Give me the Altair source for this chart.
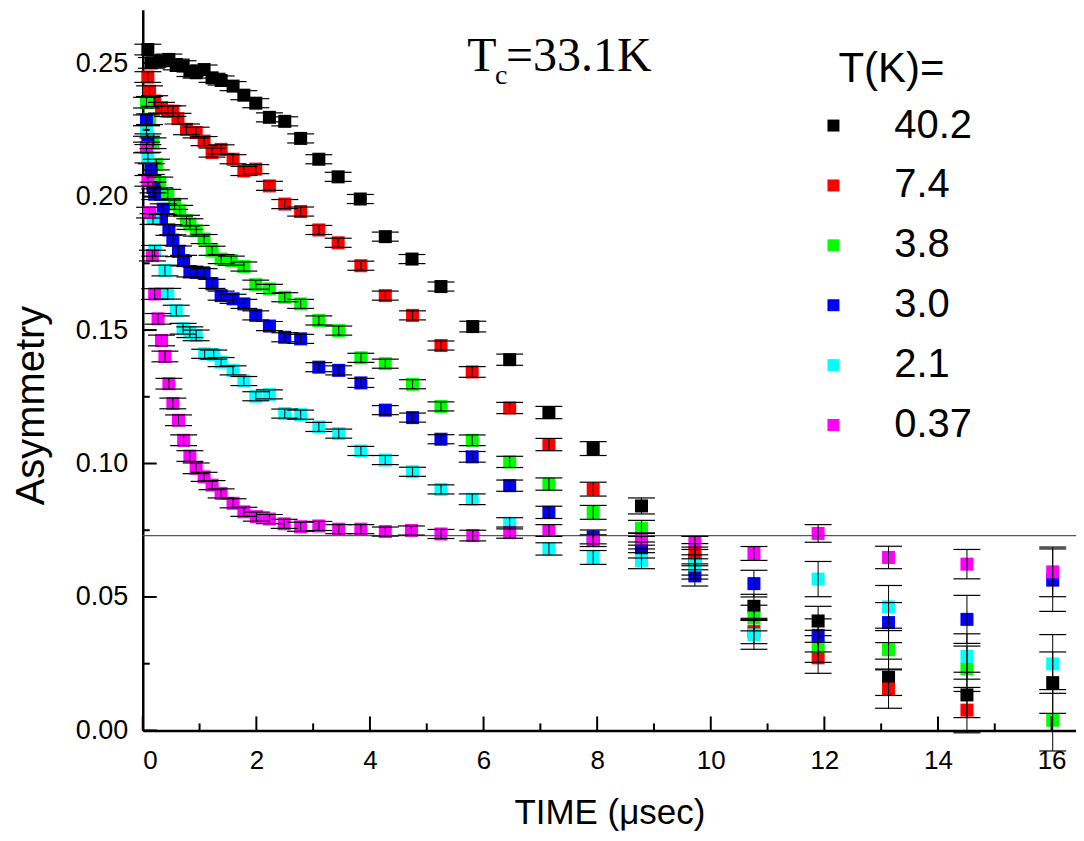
import altair as alt
import pandas as pd

series_labels = ["40.2", "7.4", "3.8", "3.0", "2.1", "0.37"]
series_colors = ["#000000", "#ff0000", "#00ff00", "#0000ff", "#00ffff", "#ff00ff"]

# T = 40.2 K
t_402 = [0.09, 0.15, 0.30, 0.46, 0.59, 0.71, 0.83, 0.94,
         1.08, 1.22, 1.38, 1.59, 1.78, 1.99, 2.23, 2.50, 2.78, 3.10, 3.44, 3.83, 4.27, 4.74, 5.25,
         5.81, 6.46, 7.15, 7.93, 8.78, 9.72, 10.76, 11.89, 13.13, 14.51, 16.02]
a_402 = [0.2551, 0.2501, 0.2507, 0.2514, 0.2495, 0.2489, 0.2470, 0.2464,
         0.2476, 0.2445, 0.2435, 0.2414, 0.2380, 0.2350, 0.2297, 0.2282, 0.2218, 0.2140, 0.2074, 0.1991, 0.1850, 0.1766, 0.1663,
         0.1513, 0.1389, 0.1191, 0.1056, 0.0841, 0.0640, 0.0465, 0.0410, 0.0199, 0.0133, 0.0179]
e_402 = [0.002, 0.002, 0.002, 0.002, 0.002, 0.002, 0.002, 0.002,
         0.0017, 0.0017, 0.0017, 0.0017, 0.0017, 0.0017, 0.0017, 0.0017, 0.0017, 0.0017, 0.0017, 0.0017, 0.0017, 0.0017, 0.0017,
         0.002, 0.0021, 0.0023, 0.0026, 0.003, 0.0038, 0.0045, 0.0055, 0.0068, 0.0085, 0.0115]

# T = 7.4 K
t_74 = [0.09, 0.12, 0.21, 0.33, 0.44, 0.53, 0.62, 0.77, 0.94,
        1.08, 1.22, 1.38, 1.59, 1.78, 1.99, 2.23, 2.50, 2.78, 3.10, 3.44, 3.84, 4.27, 4.75, 5.25,
        5.80, 6.46, 7.15, 7.93, 8.78, 9.72, 10.76, 11.89, 13.13, 14.51]
a_74 = [0.2448, 0.2395, 0.2358, 0.2333, 0.2320, 0.2320, 0.2292, 0.2252, 0.2240,
        0.2208, 0.2165, 0.2177, 0.2140, 0.2096, 0.2103, 0.2040, 0.1972, 0.1944, 0.1875, 0.1827, 0.1741, 0.1629, 0.1555, 0.1442,
        0.1343, 0.1208, 0.1071, 0.0904, 0.0710, 0.0662, 0.0370, 0.0272, 0.0155, 0.0076]
e_74 = [0.002, 0.002, 0.002, 0.002, 0.002, 0.002, 0.002, 0.002, 0.002,
        0.0017, 0.0017, 0.0017, 0.0017, 0.0017, 0.0017, 0.0017, 0.0017, 0.0017, 0.0017, 0.0017, 0.0017, 0.0017, 0.0017, 0.0017,
        0.002, 0.0021, 0.0023, 0.0026, 0.003, 0.0038, 0.0045, 0.0058, 0.0072, 0.0085]

# T = 3.8 K
t_38 = [0.065, 0.12, 0.18, 0.24, 0.30, 0.44, 0.56, 0.65, 0.77, 0.83, 0.94,
        1.08, 1.22, 1.38, 1.56, 1.78, 1.99, 2.23, 2.50, 2.78, 3.10, 3.45, 3.84, 4.27, 4.75, 5.25,
        5.80, 6.46, 7.15, 7.93, 8.78, 9.72, 10.76, 11.89, 13.13, 14.51, 16.02]
a_38 = [0.2352, 0.2290, 0.2200, 0.2120, 0.2053, 0.2007, 0.1972, 0.1947, 0.1910, 0.1897, 0.1872,
        0.1841, 0.1797, 0.1766, 0.1760, 0.1738, 0.1670, 0.1654, 0.1623, 0.1598, 0.1536, 0.1498, 0.1396, 0.1374, 0.1297, 0.1214,
        0.1087, 0.1006, 0.0923, 0.0817, 0.0757, 0.0605, 0.0421, 0.0315, 0.0302, 0.0231, 0.0038]
e_38 = [0.002, 0.002, 0.002, 0.002, 0.002, 0.002, 0.002, 0.002, 0.002, 0.002, 0.002,
        0.0017, 0.0017, 0.0017, 0.0017, 0.0017, 0.0017, 0.0017, 0.0017, 0.0017, 0.0017, 0.0017, 0.0017, 0.0017, 0.0017, 0.0017,
        0.002, 0.0021, 0.0023, 0.0026, 0.003, 0.0038, 0.0048, 0.006, 0.0072, 0.0085, 0.0115]

# T = 3.0 K
t_30 = [0.065, 0.09, 0.15, 0.18, 0.21, 0.33, 0.36, 0.46, 0.53, 0.63, 0.72, 0.83, 0.94,
        1.08, 1.22, 1.38, 1.59, 1.78, 1.99, 2.23, 2.50, 2.78, 3.10, 3.45, 3.84, 4.27, 4.75, 5.25,
        5.80, 6.46, 7.15, 7.93, 8.78, 9.72, 10.76, 11.89, 13.13, 14.51, 16.02]
a_30 = [0.2286, 0.2215, 0.2103, 0.2034, 0.2009, 0.1916, 0.1953, 0.1875, 0.1837, 0.1795, 0.1760, 0.1719, 0.1716,
        0.1713, 0.1673, 0.1629, 0.1617, 0.1598, 0.1555, 0.1515, 0.1473, 0.1467, 0.1361, 0.1349, 0.1302, 0.1200, 0.1172, 0.1091,
        0.1025, 0.0917, 0.0817, 0.0725, 0.0676, 0.0579, 0.0550, 0.0356, 0.0404, 0.0416, 0.0563]
e_30 = [0.002, 0.002, 0.002, 0.002, 0.002, 0.002, 0.002, 0.002, 0.002, 0.002, 0.002, 0.002, 0.002,
        0.0017, 0.0017, 0.0017, 0.0017, 0.0017, 0.0017, 0.0017, 0.0017, 0.0017, 0.0017, 0.0017, 0.0017, 0.0017, 0.0017, 0.0017,
        0.002, 0.0021, 0.0023, 0.0026, 0.003, 0.0038, 0.005, 0.0062, 0.0075, 0.009, 0.0117]

# T = 2.1 K
t_21 = [0.065, 0.09, 0.18, 0.21, 0.39, 0.44, 0.59, 0.71, 0.83, 0.94,
        1.09, 1.25, 1.38, 1.59, 1.78, 1.99, 2.23, 2.50, 2.78, 3.10, 3.45, 3.84, 4.27, 4.75, 5.25,
        5.80, 6.46, 7.15, 7.93, 8.78, 9.72, 10.76, 11.89, 13.13, 14.51, 16.02]
a_21 = [0.2246, 0.2146, 0.1916, 0.1797, 0.1723, 0.1636, 0.1573, 0.1505, 0.1492, 0.1480,
        0.1411, 0.1408, 0.1380, 0.1349, 0.1309, 0.1252, 0.1259, 0.1187, 0.1183, 0.1137, 0.1112, 0.1047, 0.1013, 0.0969, 0.0903,
        0.0866, 0.0776, 0.0680, 0.0648, 0.0636, 0.0620, 0.0358, 0.0567, 0.0463, 0.0277, 0.0249]
e_21 = [0.002, 0.002, 0.002, 0.002, 0.002, 0.002, 0.002, 0.002, 0.002, 0.002,
        0.0017, 0.0017, 0.0017, 0.0017, 0.0017, 0.0017, 0.0017, 0.0017, 0.0017, 0.0017, 0.0017, 0.0017, 0.0017, 0.0017, 0.0017,
        0.002, 0.0021, 0.0023, 0.0026, 0.003, 0.0038, 0.0054, 0.0066, 0.008, 0.0085, 0.011]

# T = 0.37 K
t_037 = [0.065, 0.09, 0.12, 0.17, 0.21, 0.27, 0.33, 0.39, 0.46, 0.53, 0.63, 0.72, 0.83, 0.94,
         1.08, 1.22, 1.38, 1.59, 1.78, 2.00, 2.23, 2.49, 2.78, 3.10, 3.45, 3.84, 4.27, 4.73, 5.25,
         5.81, 6.46, 7.15, 7.93, 8.78, 9.72, 10.76, 11.89, 13.13, 14.51, 16.02]
a_037 = [0.2184, 0.2059, 0.1940, 0.1779, 0.1635, 0.1542, 0.1461, 0.1401, 0.1299, 0.1225, 0.1162, 0.1087, 0.1028, 0.0982,
         0.0950, 0.0919, 0.0888, 0.0851, 0.0819, 0.0801, 0.0792, 0.0774, 0.0763, 0.0766, 0.0754, 0.0754, 0.0745, 0.0749, 0.0736,
         0.0730, 0.0741, 0.0749, 0.0711, 0.0716, 0.0707, 0.0663, 0.0738, 0.0648, 0.0623, 0.0594]
e_037 = [0.002, 0.002, 0.002, 0.002, 0.002, 0.002, 0.002, 0.002, 0.002, 0.002, 0.002, 0.002, 0.002, 0.002,
         0.0017, 0.0017, 0.0017, 0.0017, 0.0017, 0.0017, 0.0017, 0.0017, 0.0017, 0.0017, 0.0017, 0.0017, 0.0017, 0.0017, 0.0017,
         0.002, 0.0021, 0.0022, 0.0022, 0.0022, 0.002, 0.0026, 0.0033, 0.0042, 0.0055, 0.0093]

baseline_value = [0.073]
x_major = [0, 2, 4, 6, 8, 10, 12, 14, 16]
x_minor = [1, 3, 5, 7, 9, 11, 13, 15]
y_major = [0.00, 0.05, 0.10, 0.15, 0.20, 0.25]
y_minor = [0.025, 0.075, 0.125, 0.175, 0.225]

all_t = [t_402, t_74, t_38, t_30, t_21, t_037]
all_a = [a_402, a_74, a_38, a_30, a_21, a_037]
all_e = [e_402, e_74, e_38, e_30, e_21, e_037]

rows = []
for lab, ts, avals, evals in zip(series_labels, all_t, all_a, all_e):
    for t, a, e in zip(ts, avals, evals):
        rows.append({"T": lab, "t": t, "A": a, "lo": a - e, "hi": a + e})
df = pd.DataFrame(rows)

W, H = 935, 722
SANS = "Liberation Sans"
SERIF = "Liberation Serif"
xs = alt.Scale(domain=[0, 16.43], nice=False, zero=False)
ys = alt.Scale(domain=[0, 0.27], nice=False, zero=False)

points = alt.Chart(df).mark_square(size=170, opacity=1, strokeWidth=0).encode(
    x=alt.X("t:Q", scale=xs, axis=alt.Axis(
        values=x_major, format="d", title="TIME (μsec)", ticks=False, tickSize=0,
        labelFontSize=26, labelPadding=17, titleFontSize=35, titleY=93,
        titleBaseline="alphabetic")),
    y=alt.Y("A:Q", scale=ys, axis=alt.Axis(
        values=y_major, format=".2f", title="Asymmetry", ticks=False, tickSize=0,
        labelFontSize=27, labelPadding=15, titleFontSize=40, titleX=-111, titleY=396,
        titleBaseline="middle", titleAngle=270)),
    color=alt.Color("T:N", scale=alt.Scale(domain=series_labels, range=series_colors),
                    legend=alt.Legend(title=None, orient="none", legendX=672, legendY=96,
                                      symbolType="square", symbolSize=144, symbolStrokeWidth=0,
                                      symbolOpacity=1, labelFontSize=40, labelFont=SANS,
                                      labelColor="black", labelOffset=41, rowPadding=20,
                                      padding=0, labelLimit=300)),
)

xq = alt.X("t:Q", scale=xs, axis=None)
err = alt.Chart(df).mark_rule(color="black", strokeWidth=1).encode(
    x=xq, y=alt.Y("lo:Q", scale=ys, axis=None), y2="hi:Q")
cap_lo = alt.Chart(df).mark_tick(orient="horizontal", size=27, thickness=1.2, color="black", opacity=1).encode(
    x=xq, y=alt.Y("lo:Q", scale=ys, axis=None))
cap_hi = alt.Chart(df).mark_tick(orient="horizontal", size=27, thickness=1.2, color="black", opacity=1).encode(
    x=xq, y=alt.Y("hi:Q", scale=ys, axis=None))

hline = alt.Chart(pd.DataFrame({"v": baseline_value})).mark_rule(color="#555555", strokeWidth=1.3).encode(
    y=alt.Y("v:Q", scale=ys, axis=None))

xt_major = alt.Chart(pd.DataFrame({"v": x_major})).mark_rule(color="black", strokeWidth=2).encode(
    x=alt.X("v:Q", scale=xs, axis=None), y=alt.value(H), y2=alt.value(H - 14))
xt_minor = alt.Chart(pd.DataFrame({"v": x_minor})).mark_rule(color="black", strokeWidth=2).encode(
    x=alt.X("v:Q", scale=xs, axis=None), y=alt.value(H), y2=alt.value(H - 7))
yt_major = alt.Chart(pd.DataFrame({"v": y_major})).mark_rule(color="black", strokeWidth=2).encode(
    y=alt.Y("v:Q", scale=ys, axis=None), x=alt.value(0), x2=alt.value(14))
yt_minor = alt.Chart(pd.DataFrame({"v": y_minor})).mark_rule(color="black", strokeWidth=2).encode(
    y=alt.Y("v:Q", scale=ys, axis=None), x=alt.value(0), x2=alt.value(7))

legend_title = alt.Chart(pd.DataFrame({"s": ["T(K)="]})).mark_text(
    font=SANS, fontSize=42, align="left", baseline="alphabetic", color="black").encode(
    text="s:N", x=alt.value(697), y=alt.value(72))

tc_T = alt.Chart(pd.DataFrame({"s": ["T"]})).mark_text(
    font=SERIF, fontSize=48, align="left", baseline="alphabetic", color="black").encode(
    text="s:N", x=alt.value(325), y=alt.value(61))
tc_c = alt.Chart(pd.DataFrame({"s": ["c"]})).mark_text(
    font=SERIF, fontSize=28, align="left", baseline="alphabetic", color="black").encode(
    text="s:N", x=alt.value(353), y=alt.value(74))
tc_rest = alt.Chart(pd.DataFrame({"s": ["=33.1K"]})).mark_text(
    font=SERIF, fontSize=48, align="left", baseline="alphabetic", color="black").encode(
    text="s:N", x=alt.value(364), y=alt.value(61))

chart = alt.layer(
    points, hline, err, cap_lo, cap_hi,
    xt_major, xt_minor, yt_major, yt_minor,
    legend_title, tc_T, tc_c, tc_rest,
).resolve_axis(x="independent", y="independent").properties(
    width=W, height=H,
    autosize=alt.AutoSizeParams(type="none"),
    padding={"left": 135, "top": 1, "right": 0, "bottom": 102},
).configure_view(stroke=None).configure_axis(
    domainColor="black", domainWidth=2.5, labelFont=SANS, titleFont=SANS,
    labelColor="black", titleColor="black", titleFontWeight="normal", grid=False,
)

chart.save("out.html", embed_options={"renderer": "svg", "actions": False})
